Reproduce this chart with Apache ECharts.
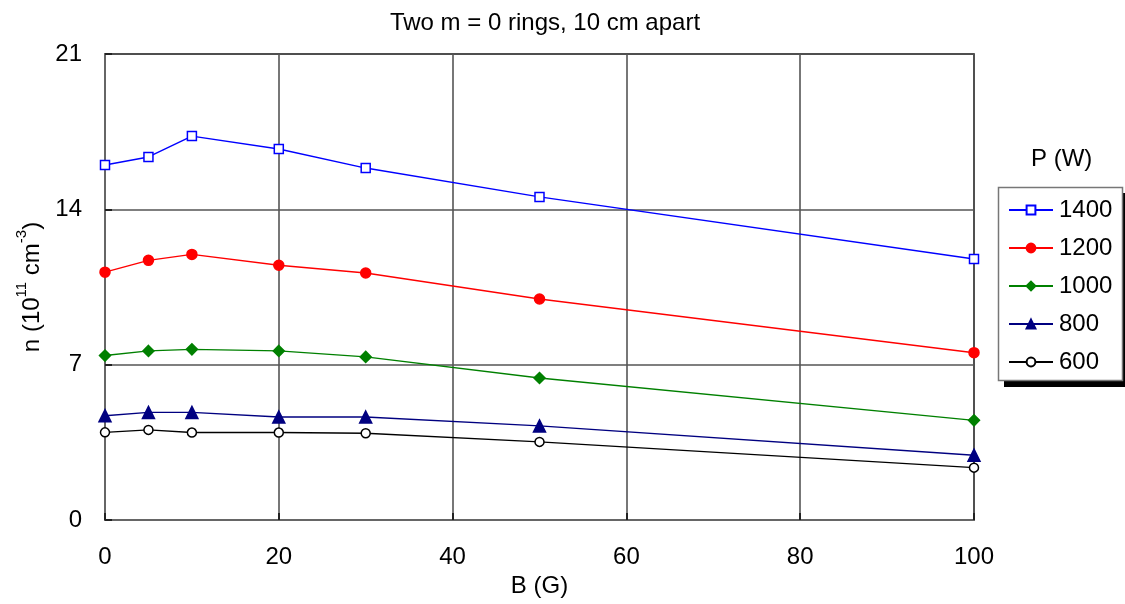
<!DOCTYPE html>
<html><head><meta charset="utf-8">
<script src="https://cdn.jsdelivr.net/npm/echarts@6/dist/echarts.min.js"></script>
<style>html,body{margin:0;padding:0;background:#fff}#c{width:1125px;height:604px}</style>
</head><body><div id="c"></div>
<script>
const bValues = [0, 5, 10, 20, 30, 50, 100];
const powers = ['1400', '1200', '1000', '800', '600'];
const n1400 = [16.0, 16.36, 17.3, 16.72, 15.86, 14.56, 11.76];
const n1200 = [11.17, 11.70, 11.97, 11.48, 11.13, 9.96, 7.54];
const n1000 = [7.41, 7.62, 7.69, 7.62, 7.35, 6.40, 4.49];
const n800 = [4.70, 4.85, 4.85, 4.64, 4.64, 4.24, 2.92];
const n600 = [3.95, 4.06, 3.94, 3.94, 3.91, 3.52, 2.36];

const seriesData = [n1400, n1200, n1000, n800, n600];
const styles = [
  {color:'#0000ff', symbol:'rect', size:9, fill:'#ffffff'},
  {color:'#ff0000', symbol:'circle', size:10, fill:'#ff0000'},
  {color:'#008000', symbol:'diamond', size:11, fill:'#008000'},
  {color:'#000080', symbol:'triangle', size:12, fill:'#000080'},
  {color:'#000000', symbol:'circle', size:9, fill:'#ffffff'}
];
const font = 'Liberation Sans, Arial, sans-serif';
const chart = echarts.init(document.getElementById('c'));
chart.setOption({
  animation:false,
  textStyle:{fontFamily:font},
  title:{text:'Two m = 0 rings, 10 cm apart', left:540, top:6, textAlign:'center',
    textStyle:{fontSize:24, fontWeight:'normal', color:'#000', fontFamily:font}},
  graphic:[
    {type:'text', left:1031, top:147, z:10, style:{text:'P (W)', fontSize:24, fill:'#000', fontFamily:font}},
    {type:'rect', shape:{x:1004, y:193, width:125, height:194}, z:1, style:{fill:'#000'}},
    {type:'rect', shape:{x:998.5, y:187.5, width:124, height:193}, z:2, style:{fill:'#fff', stroke:'#777', lineWidth:1.5}}
  ],
  grid:{left:105, right:151, top:54, bottom:84, show:true, borderColor:'#000', borderWidth:1.5},
  legend:{orient:'vertical', left:1008, top:198, padding:0, z:20,
    itemWidth:44, itemHeight:11, itemGap:14,
    textStyle:{fontSize:24, lineHeight:24, color:'#000', fontFamily:font, padding:[0,0,0,1]},
    data:powers},
  xAxis:{type:'value', min:0, max:100, interval:20,
    name:'B (G)', nameLocation:'middle', nameGap:49,
    nameTextStyle:{fontSize:24, color:'#000', fontFamily:font},
    axisLine:{show:true, lineStyle:{color:'#666', width:2}},
    axisTick:{show:true, inside:true, length:7, lineStyle:{color:'#222', width:2}},
    axisLabel:{fontSize:24, color:'#000', margin:25, fontFamily:font},
    splitLine:{show:true, lineStyle:{color:'#555', width:1.6}}},
  yAxis:{type:'value', min:0, max:21, interval:7,
    name:'{m|n (10}{s|11}{m| cm}{s|-3}{m|)}', nameLocation:'middle', nameGap:47, nameRotate:90,
    nameTextStyle:{fontSize:24, color:'#000', fontFamily:font, lineHeight:30,
      rich:{
        m:{fontSize:24, lineHeight:30, verticalAlign:'bottom', fontFamily:font, color:'#000'},
        s:{fontSize:15, lineHeight:30, verticalAlign:'top', fontFamily:font, color:'#000'}}},
    axisLine:{show:true, lineStyle:{color:'#666', width:2}},
    axisTick:{show:true, inside:true, length:7, lineStyle:{color:'#222', width:2}},
    axisLabel:{fontSize:24, color:'#000', margin:23, fontFamily:font},
    splitLine:{show:true, lineStyle:{color:'#555', width:1.6}}},
  series: seriesData.map((d,i)=>({
    name:powers[i], type:'line',
    data:bValues.map((b,j)=>[b,d[j]]),
    symbol:styles[i].symbol, symbolSize:styles[i].size, showAllSymbol:true,
    lineStyle:{color:styles[i].color, width:1.4},
    itemStyle:{color:styles[i].fill, borderColor:styles[i].color, borderWidth:1.5},
    clip:false
  }))
});
</script></body></html>
